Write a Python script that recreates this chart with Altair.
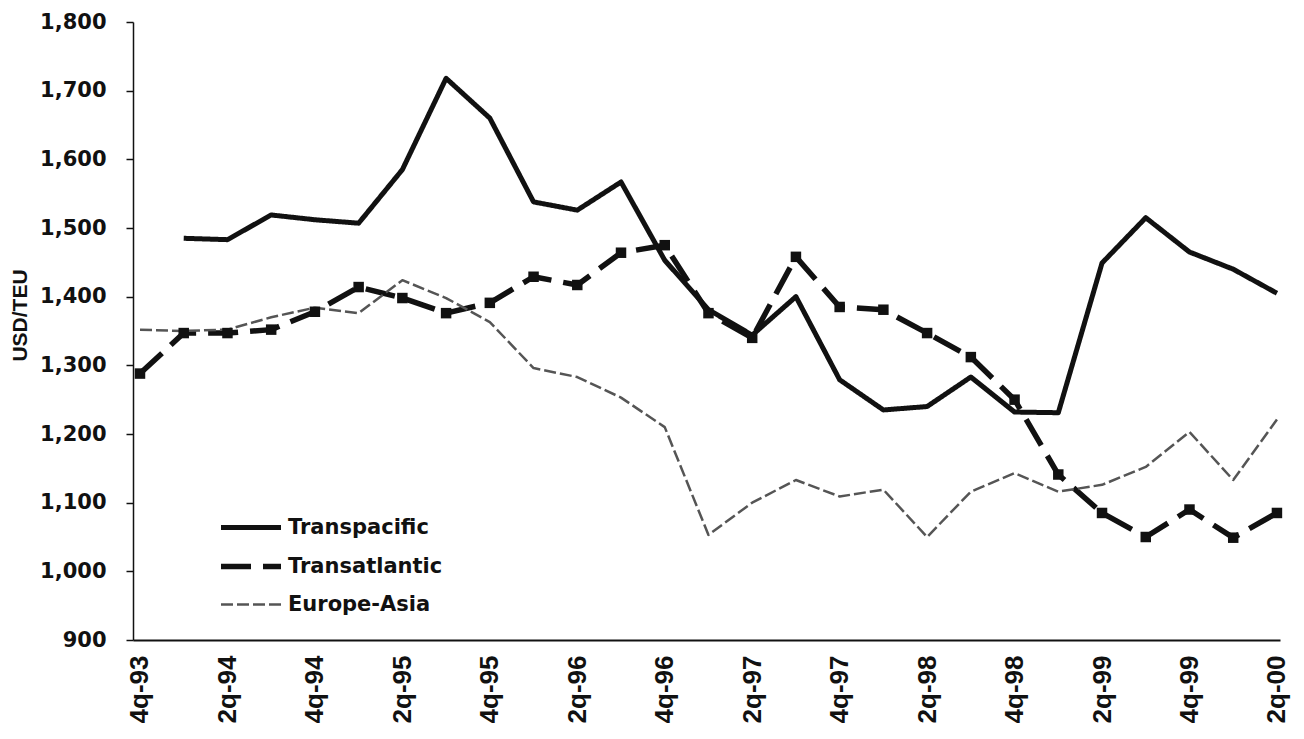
import altair as alt
import pandas as pd

quarters = ["4q-93", "1q-94", "2q-94", "3q-94", "4q-94", "1q-95", "2q-95", "3q-95",
            "4q-95", "1q-96", "2q-96", "3q-96", "4q-96", "1q-97", "2q-97", "3q-97",
            "4q-97", "1q-98", "2q-98", "3q-98", "4q-98", "1q-99", "2q-99", "3q-99",
            "4q-99", "1q-00", "2q-00"]
tick_labels = ["4q-93", "2q-94", "4q-94", "2q-95", "4q-95", "2q-96", "4q-96",
               "2q-97", "4q-97", "2q-98", "4q-98", "2q-99", "4q-99", "2q-00"]
series_names = ["Transpacific", "Transatlantic", "Europe-Asia"]

transpacific = [None, 1485, 1483, 1519, 1512, 1507, 1585, 1718, 1660, 1538, 1526,
                1567, 1453, 1381, 1344, 1400, 1279, 1235, 1240, 1283, 1232, 1231,
                1449, 1515, 1465, 1440, 1405]
transatlantic = [1288, 1347, 1347, 1352, 1378, 1414, 1398, 1376, 1391, 1429, 1417,
                 1464, 1475, 1376, 1340, 1458, 1385, 1381, 1347, 1312, 1250, 1141,
                 1085, 1050, 1090, 1049, 1085]
europe_asia = [1352, 1350, 1352, 1370, 1384, 1376, 1424, 1398, 1363, 1296, 1283,
               1253, 1210, 1053, 1100, 1133, 1109, 1119, 1050, 1116, 1143, 1116,
               1126, 1152, 1203, 1133, 1221]
y_ticks = [900, 1000, 1100, 1200, 1300, 1400, 1500, 1600, 1700, 1800]

rows = []
for name, vals in zip(series_names, [transpacific, transatlantic, europe_asia]):
    for i, (q, v) in enumerate(zip(quarters, vals)):
        if v is not None:
            rows.append({"idx": i, "quarter": q, "series": name, "value": v})
df = pd.DataFrame(rows)

tick_idx = [quarters.index(t) for t in tick_labels]
label_expr = "[" + ",".join("'%s'" % q for q in quarters) + "][datum.value]"

x_enc = alt.X(
    "idx:Q",
    scale=alt.Scale(domain=[-0.16, 26.07], nice=False, zero=False),
    axis=alt.Axis(values=tick_idx, labelExpr=label_expr, labelAngle=-90,
                  labelAlign="right", labelBaseline="middle", ticks=False,
                  grid=False, domainColor="#111111", domainWidth=2,
                  labelFont="Liberation Sans",
                  labelFontWeight="bold",
                  labelFontSize=26, labelColor="#111111", labelPadding=15,
                  title=None, labelOverlap=False),
)
y_enc = alt.Y(
    "value:Q",
    scale=alt.Scale(domain=[900, 1800], nice=False, zero=False),
    axis=alt.Axis(values=y_ticks, format=",d", tickSize=7, tickColor="#111111",
                  tickWidth=1.5, domainColor="#111111", domainWidth=1.5,
                  grid=False, labelFont="DejaVu Sans", labelFontWeight="bold",
                  labelFontSize=21, labelColor="#111111", labelPadding=20,
                  title="USD/TEU", titleFont="Liberation Sans",
                  titleFontSize=21,
                  titleFontWeight="bold", titleColor="#111111", titleX=-107,
                  titleY=293, titleAngle=-90, titleBaseline="alphabetic",
                  titleAlign="center"),
)

legend = alt.Legend(title=None, orient="none", legendX=125, legendY=493,
                    symbolType="M-5,0H1", symbolSize=400,
                    labelFont="DejaVu Sans", labelFontWeight="bold",
                    labelFontSize=21, labelColor="#111111", rowPadding=15.5,
                    labelOffset=4, padding=0)

lines = alt.Chart(df).mark_line(strokeCap="butt", strokeJoin="round").encode(
    x=x_enc,
    y=y_enc,
    color=alt.Color("series:N", sort=series_names,
                    scale=alt.Scale(type="ordinal", domain=series_names,
                                    range=["#111111", "#111111", "#555555"]),
                    legend=legend),
    strokeDash=alt.StrokeDash("series:N", sort=series_names,
                              scale=alt.Scale(type="ordinal", domain=series_names,
                                              range=[[1, 0], [30, 12], [12, 4]]),
                              legend=legend),
    strokeWidth=alt.StrokeWidth("series:N", sort=series_names,
                                scale=alt.Scale(type="ordinal", domain=series_names,
                                                range=[5, 5.5, 2.5]),
                                legend=legend),
)

squares = alt.Chart(df).transform_filter(
    alt.datum.series == series_names[1]
).mark_square(size=110, color="#111111", opacity=1).encode(x=x_enc, y=y_enc)

chart = alt.layer(lines, squares).properties(
    width=1147, height=618,
    padding={"left": 125, "top": 14, "right": 16, "bottom": 90},
    autosize=alt.AutoSizeParams(type="none"),
    background="white",
).configure_view(stroke=None)

chart.save("out.html", embed_options={"renderer": "svg", "actions": False})
